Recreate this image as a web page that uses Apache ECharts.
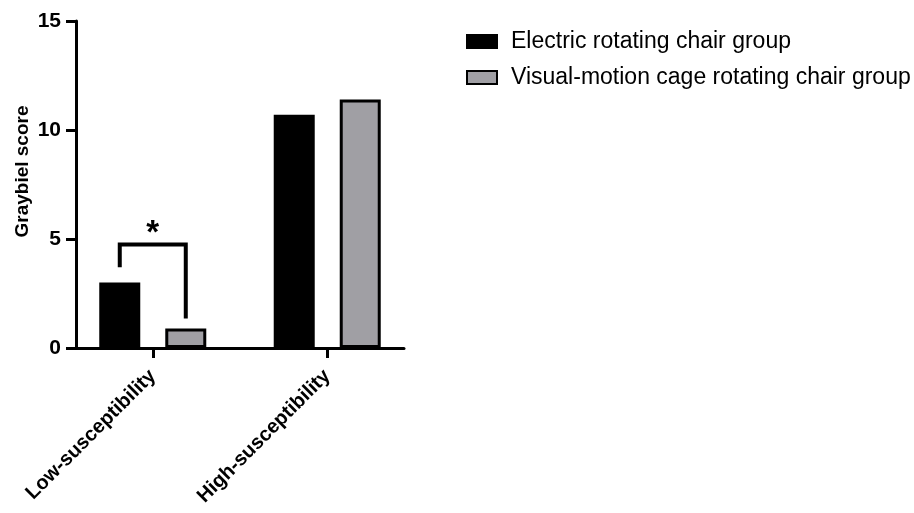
<!DOCTYPE html>
<html>
<head>
<meta charset="utf-8">
<script src="https://cdn.jsdelivr.net/npm/echarts@6/dist/echarts.min.js"></script>
<style>
    html, body { margin: 0; padding: 0; background: #fff; }
    #chart { width: 914px; height: 513px; }
</style>
</head>
<body>
<div id="chart"></div>
<script>
// data
const categories = ['Low-susceptibility', 'High-susceptibility'];
const seriesNames = ['Electric rotating chair group', 'Visual-motion cage rotating chair group'];
const electricValues = [3.0, 10.7];
const visualValues = [0.9, 11.4];
const yTicks = [0, 5, 10, 15];
// significance bracket over the low group: left leg end, top, right leg end
const bracketLevels = [3.7, 4.75, 1.35];
const starLevel = 5.25;
const starText = '*';

const FONT = 'Liberation Sans, Arial, sans-serif';
const BAR_WIDTH = 41;
const BAR_GAP = 0.61;

const myEcharts = echarts.init(document.getElementById('chart'));

const option = {
    animation: false,
    grid: {
        left: 76,
        right: 510,
        top: 21,
        bottom: 165,
        containLabel: false
    },
    legend: {
        orient: 'vertical',
        left: 466,
        top: 30,
        padding: 0,
        itemWidth: 30,
        itemHeight: 13,
        itemGap: 13,
        icon: 'rect',
        data: seriesNames,
        textStyle: {
            color: '#000',
            fontSize: 23,
            fontFamily: FONT,
            padding: [0, 0, 0, 9]
        }
    },
    xAxis: {
        type: 'value',
        min: -0.44,
        max: 1.44,
        splitLine: { show: false },
        axisLine: {
            show: true,
            lineStyle: { color: '#000', width: 3 }
        },
        axisTick: {
            show: true,
            length: 10,
            customValues: [0, 1],
            lineStyle: { color: '#000', width: 3 }
        },
        axisLabel: {
            customValues: [0, 1],
            rotate: 45,
            margin: 25,
            color: '#000',
            fontSize: 20,
            fontWeight: 'bold',
            fontFamily: FONT,
            formatter: function (v) {
                return categories[Math.round(v)];
            }
        }
    },
    yAxis: {
        type: 'value',
        min: 0,
        max: 15,
        interval: 5,
        name: 'Graybiel score',
        nameLocation: 'middle',
        nameGap: 44,
        nameRotate: 90,
        nameTextStyle: {
            color: '#000',
            fontSize: 19,
            fontWeight: 'bold',
            fontFamily: FONT,
            padding: [0, 0, 0, 26]
        },
        splitLine: { show: false },
        axisLine: {
            show: true,
            onZero: false,
            lineStyle: { color: '#000', width: 3 }
        },
        axisTick: {
            show: true,
            length: 10,
            lineStyle: { color: '#000', width: 3 }
        },
        axisLabel: {
            margin: 15,
            color: '#000',
            fontSize: 21,
            fontWeight: 'bold',
            fontFamily: FONT,
            formatter: function (v) {
                return yTicks.indexOf(v) >= 0 ? String(v) : '';
            }
        }
    },
    series: [
        {
            name: seriesNames[0],
            type: 'bar',
            barWidth: BAR_WIDTH,
            barGap: (BAR_GAP * 100) + '%',
            itemStyle: {
                color: '#000',
                borderColor: '#000',
                borderWidth: 3
            },
            data: electricValues.map((v, i) => [i, v])
        },
        {
            name: seriesNames[1],
            type: 'bar',
            barWidth: BAR_WIDTH,
            barGap: (BAR_GAP * 100) + '%',
            itemStyle: {
                color: '#a09fa4',
                borderColor: '#000',
                borderWidth: 3
            },
            data: visualValues.map((v, i) => [i, v])
        },
        {
            // bracket + star between the two low-susceptibility bars
            type: 'custom',
            coordinateSystem: 'cartesian2d',
            silent: true,
            data: [[0, 0]],
            renderItem: function (params, api) {
                const half = BAR_WIDTH * (1 + BAR_GAP) / 2;
                const cx = api.coord([0, 0])[0];
                const yLeft = api.coord([0, bracketLevels[0]])[1];
                const yTop = api.coord([0, bracketLevels[1]])[1];
                const yRight = api.coord([0, bracketLevels[2]])[1];
                const yStar = api.coord([0, starLevel])[1];
                return {
                    type: 'group',
                    children: [
                        {
                            type: 'polyline',
                            shape: {
                                points: [
                                    [cx - half, yLeft],
                                    [cx - half, yTop],
                                    [cx + half, yTop],
                                    [cx + half, yRight]
                                ]
                            },
                            style: { stroke: '#000', lineWidth: 4, fill: null }
                        },
                        {
                            type: 'text',
                            style: {
                                text: starText,
                                x: cx,
                                y: yStar,
                                align: 'center',
                                verticalAlign: 'middle',
                                fill: '#000',
                                font: 'bold 33px ' + FONT
                            }
                        }
                    ]
                };
            }
        }
    ]
};

myEcharts.setOption(option);
</script>
</body>
</html>
